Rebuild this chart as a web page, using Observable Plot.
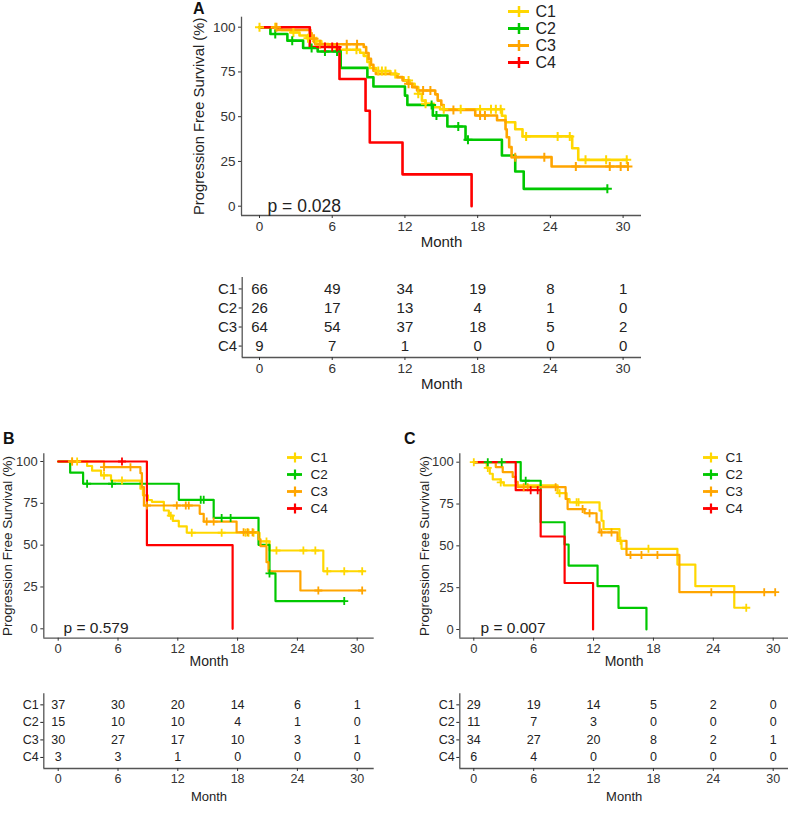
<!DOCTYPE html>
<html><head><meta charset="utf-8">
<script src="https://cdn.jsdelivr.net/npm/d3@7"></script>
<script src="https://cdn.jsdelivr.net/npm/@observablehq/plot@0.6"></script>
<style>
body{margin:0;background:#fff;font-family:"Liberation Sans",Arial,sans-serif;}
#page{position:relative;width:790px;height:819px;overflow:hidden;background:#fff;}
.blk{position:absolute;}
.blk svg{display:block;}
.letter{position:absolute;font-weight:bold;font-size:16px;color:#111;line-height:1;}
</style></head><body><div id="page"></div>
<script>
// ---------- shared ----------
const groups = ["C1","C2","C3","C4"];
const groupColors = ["#FFD700","#00C800","#FFA500","#FF0000"];
const monthTicks = [0,6,12,18,24,30];
const survTicks = [0,25,50,75,100];

// ---------- Panel A ----------
const A_pText = "p = 0.028";
const A_C1_steps = [[0,100],[1.8,98.5],[2.6,97.0],[3.3,95.4],[3.9,93.8],[4.5,92.2],[5.1,90.6],[5.7,89.0],[6.3,87.4],[8.3,85.7],[8.6,84.0],[8.9,80.6],[9.1,77.2],[9.6,75.5],[10.8,73.8],[11.4,72.0],[11.9,70.2],[12.4,68.4],[12.8,66.5],[13.1,62.8],[13.4,59.0],[13.7,57.2],[14.4,55.3],[14.9,54.2],[20.0,50.5],[20.3,46.9],[21.1,43.0],[21.7,39.0],[25.8,32.4],[26.3,25.9]];
const A_C1_end = 30.3;
const A_C1_censor = [0,1.3,2.8,4.0,4.7,7.2,8.0,9.8,10.1,10.4,11.2,12.3,13.1,13.7,15.2,16.6,18.2,19.1,19.5,19.9,22.0,24.6,25.6,26.9,28.6,30.3];
const A_C2_steps = [[0,100],[0.9,96.2],[2.3,92.5],[3.6,88.4],[4.8,86.4],[6.7,77.3],[8.9,72.0],[9.4,66.9],[12.0,61.8],[12.2,56.6],[14.3,50.7],[15.5,44.5],[17.0,37.1],[20.0,28.3],[21.1,19.4],[21.8,9.7]];
const A_C2_end = 28.7;
const A_C2_censor = [1.3,2.7,4.3,5.4,6.4,14.2,14.6,16.4,17.2,28.7];
const A_C3_steps = [[0,100],[1.5,98.4],[4.2,96.8],[4.3,93.6],[4.6,90.5],[8.6,88.9],[8.8,85.6],[9.0,82.3],[9.2,79.0],[9.4,75.7],[9.6,73.9],[11.3,72.1],[11.8,70.3],[12.2,68.4],[12.6,66.5],[13.0,64.6],[14.5,62.5],[14.7,59.0],[15.0,56.5],[15.2,53.8],[17.8,50.7],[19.6,48.0],[20.3,43.0],[20.4,38.5],[20.6,33.0],[20.8,27.4],[24.1,22.2]];
const A_C3_end = 30.4;
const A_C3_censor = [1.4,4.5,5.0,7.2,8.05,12.3,13.5,14.1,16.0,18.2,18.6,21.1,23.5,26.1,28.9,29.8,30.4];
const A_C4_steps = [[0,100],[4.15,88.9],[6.6,71.1],[8.75,53.3],[9.1,35.6],[11.8,17.8],[17.5,0]];
const A_C4_end = 17.5;
const A_C4_censor = [5.4,6.0,6.4];
const A_risk_C1 = [66,49,34,19,8,1];
const A_risk_C2 = [26,17,13,4,1,0];
const A_risk_C3 = [64,54,37,18,5,2];
const A_risk_C4 = [9,7,1,0,0,0];

// ---------- Panel B ----------
const B_pText = "p = 0.579";
const B_C1_steps = [[0,100],[2.9,97.3],[3.4,94.5],[4.3,91.7],[5.3,88.6],[8.25,83.7],[8.5,79.8],[9.0,77.0],[9.4,75.9],[10.6,70.7],[11.1,67.6],[11.5,64.5],[12.1,61.2],[12.9,57.4],[20.2,52.2],[21.2,46.8],[26.6,34.4]];
const B_C1_end = 30.6;
const B_C1_censor = [1.4,1.9,4.6,6.4,11.3,13.4,16.4,18.8,19.1,19.6,20.9,21.9,24.6,25.8,27.0,28.7,30.5];
const B_C2_steps = [[0,100],[1.2,93.3],[2.5,86.7],[12.1,77.1],[15.6,66.3],[20.1,50.2],[21.2,33.1],[21.8,16.6]];
const B_C2_end = 28.7;
const B_C2_censor = [2.9,5.4,14.3,14.6,16.4,17.3,21.2,28.7];
const B_C3_steps = [[0,100],[4.6,96.6],[8.25,93.0],[8.4,84.7],[8.6,73.7],[14.2,68.7],[14.6,64.1],[17.9,57.7],[20.1,53.5],[20.3,49.4],[20.9,39.8],[21.1,34.4],[24.3,22.9]];
const B_C3_end = 30.5;
const B_C3_censor = [1.4,4.6,7.25,8.9,11.9,12.8,13.1,14.9,15.6,18.6,19.0,19.5,26.1,30.5];
const B_C4_steps = [[0,100],[8.9,50],[17.5,0]];
const B_C4_end = 17.5;
const B_C4_censor = [6.4];
const B_risk_C1 = [37,30,20,14,6,1];
const B_risk_C2 = [15,10,10,4,1,0];
const B_risk_C3 = [30,27,17,10,3,1];
const B_risk_C4 = [3,3,1,0,0,0];

// ---------- Panel C ----------
const C_pText = "p = 0.007";
const C_C1_steps = [[0,100],[1.3,96.6],[1.6,93.1],[1.9,89.7],[2.7,87.9],[3.0,86.2],[8.4,81.5],[9.3,78.0],[9.6,76.0],[12.6,71.0],[12.8,65.0],[13.0,60.0],[14.6,53.0],[14.8,48.2],[20.4,38.8],[22.2,25.9],[26.1,13.0]];
const C_C1_end = 27.3;
const C_C1_censor = [0,1.4,2.7,8.6,10.3,10.5,14.7,17.5,27.3];
const C_C2_steps = [[0,100],[4.7,88.9],[6.7,64.1],[9.1,50.8],[9.5,38.2],[12.4,25.9],[14.5,12.9],[17.3,0]];
const C_C2_end = 17.3;
const C_C2_censor = [1.4,2.8,5.2];
const C_C3_steps = [[0,100],[2.2,97.1],[2.9,94.1],[3.9,91.2],[4.2,88.2],[4.4,85.1],[9.2,78.0],[9.4,72.0],[11.1,69.5],[12.3,64.0],[12.6,58.0],[14.4,53.0],[15.3,44.6],[20.6,22.3]];
const C_C3_end = 30.2;
const C_C3_censor = [5.0,5.4,8.2,10.9,11.6,12.8,13.8,15.7,16.8,18.4,23.8,29.1,30.2];
const C_C4_steps = [[0,100],[4.2,83.3],[6.7,55.6],[9.1,27.8],[11.95,0]];
const C_C4_end = 11.95;
const C_C4_censor = [5.7,6.4];
const C_risk_C1 = [29,19,14,5,2,0];
const C_risk_C2 = [11,7,3,0,0,0];
const C_risk_C3 = [34,27,20,8,2,1];
const C_risk_C4 = [6,4,0,0,0,0];

// ---------- helpers ----------
const FONT = '"Liberation Sans", Arial, sans-serif';
const page = document.getElementById("page");
const plusSymbol = {draw(ctx, size){const r = Math.sqrt(size/Math.PI); ctx.moveTo(-r,0); ctx.lineTo(r,0); ctx.moveTo(0,-r); ctx.lineTo(0,r);}};

function place(node, left, top){
  const d = document.createElement("div");
  d.className = "blk"; d.style.left = left + "px"; d.style.top = top + "px";
  d.appendChild(node); page.appendChild(d);
}
function letter(txt, left, top){
  const d = document.createElement("div");
  d.className = "letter"; d.textContent = txt;
  d.style.left = left + "px"; d.style.top = top + "px";
  page.appendChild(d);
}
function survAt(steps, t){let s = steps[0][1]; for (const [tt, ss] of steps) if (tt <= t) s = ss; return s;}

function mainPanel(c){
  const kx = (c.x30 - c.x0)/30, ky = (c.y0 - c.y100)/100;
  const xDom = [(c.axisL - c.x0)/kx, (c.axisR - c.x0)/kx];
  const yDom = [(c.y0 - c.axisB)/ky, (c.y0 - c.axisT)/ky];
  const lines = [], cens = [];
  c.series.forEach(sr => {
    sr.steps.forEach(([t,s]) => lines.push({g: sr.g, t, s}));
    const last = sr.steps[sr.steps.length-1];
    if (sr.end > last[0]) lines.push({g: sr.g, t: sr.end, s: last[1]});
    sr.censor.forEach(t => cens.push({g: sr.g, t, s: survAt(sr.steps, t)}));
  });
  const p = Plot.plot({
    width: c.width, height: c.height,
    marginLeft: c.axisL - c.left, marginRight: c.left + c.width - c.axisR,
    marginTop: c.axisT - c.top, marginBottom: c.top + c.height - c.axisB,
    x: {domain: xDom}, y: {domain: yDom},
    color: {domain: groups, range: groupColors},
    style: {fontFamily: FONT, background: "transparent", color: "#333"},
    marks: [
      Plot.ruleX([xDom[0]], {stroke: "#555", strokeWidth: 1.3}),
      Plot.ruleY([yDom[0]], {stroke: "#555", strokeWidth: 1.3}),
      Plot.axisX(monthTicks, {tickSize: 3, tickPadding: 3, fontSize: c.tickFont, label: null, color: "#333"}),
      Plot.axisY(survTicks, {tickSize: 3, tickPadding: 3, fontSize: c.tickFont, label: null, color: "#333"}),
      Plot.text(["Progression Free Survival (%)"], {frameAnchor: "left", text: d => d, rotate: -90, dx: c.ylabX - c.axisL, fontSize: c.ylabFont, fill: "#222", textAnchor: "middle", lineAnchor: "middle"}),
      Plot.text(["Month"], {frameAnchor: "bottom", text: d => d, dy: c.monthY - c.axisB, fontSize: c.monthFont, fill: "#222", lineAnchor: "middle"}),
      Plot.line(lines, {x: "t", y: "s", z: "g", stroke: "g", curve: "step-after", strokeWidth: c.lw}),
      Plot.dot(cens, {x: "t", y: "s", stroke: "g", fill: "none", symbol: plusSymbol, r: c.plusR, strokeWidth: c.plusW}),
      Plot.text([c.pText], {frameAnchor: "bottom-left", text: d => d, dx: c.pX - c.axisL, dy: c.pY - c.axisB, textAnchor: "start", lineAnchor: "middle", fontSize: c.pFont, fill: "#222"})
    ]
  });
  place(p, c.left, c.top);
}

function legend(c){
  const p = Plot.plot({
    width: c.width, height: c.height,
    marginLeft: 0, marginRight: 0, marginTop: c.y1 - c.top, marginBottom: c.top + c.height - c.y4,
    x: {domain: [0, c.width], axis: null}, y: {type: "point", domain: groups, padding: 0, axis: null},
    color: {domain: groups, range: groupColors},
    style: {fontFamily: FONT, background: "transparent"},
    marks: [
      Plot.ruleY(groups, {y: d => d, x1: c.lx1, x2: c.lx2, stroke: d => d, strokeWidth: c.lw}),
      Plot.dot(groups, {x: (c.lx1 + c.lx2)/2, y: d => d, stroke: d => d, fill: "none", symbol: plusSymbol, r: c.plusR, strokeWidth: c.plusW}),
      Plot.text(groups, {x: c.tx, y: d => d, text: d => d, textAnchor: "start", fontSize: c.font, fill: "#222"})
    ]
  });
  place(p, c.left, c.top);
}

function riskTable(c){
  const kx = (c.x30 - c.x0)/30;
  const xDom = [(c.axisL - c.x0)/kx, (c.axisR - c.x0)/kx];
  const yDom = [-c.pad, 3 + c.pad];
  const cells = [];
  c.rows.forEach((arr, gi) => arr.forEach((n, mi) => cells.push({gi, m: monthTicks[mi], n})));
  const p = Plot.plot({
    width: c.width, height: c.height,
    marginLeft: c.axisL - c.left, marginRight: c.left + c.width - c.axisR,
    marginTop: c.axisT - c.top, marginBottom: c.top + c.height - c.axisB,
    x: {domain: xDom}, y: {domain: yDom, reverse: true},
    style: {fontFamily: FONT, background: "transparent", color: "#333"},
    marks: [
      Plot.ruleX([xDom[0]], {stroke: "#555", strokeWidth: 1.3}),
      Plot.ruleY([yDom[1]], {stroke: "#555", strokeWidth: 1.3}),
      Plot.axisX(monthTicks, {tickSize: 3, tickPadding: 3, fontSize: c.tickFont, label: null, color: "#333"}),
      Plot.axisY([0,1,2,3], {tickSize: 3, tickPadding: 2, fontSize: c.font, label: null, tickFormat: i => groups[i], color: "#222"}),
      Plot.text(cells, {x: "m", y: "gi", text: "n", fontSize: c.font, fill: "#222"}),
      Plot.text(["Month"], {frameAnchor: "bottom", text: d => d, dy: c.monthY - c.axisB, fontSize: c.monthFont, fill: "#222", lineAnchor: "middle"})
    ]
  });
  place(p, c.left, c.top);
}

// ---------- Panel A ----------
letter("A", 193, 1);
mainPanel({left: 180, top: 0, width: 470, height: 260, axisL: 241, axisR: 641, axisT: 16.7, axisB: 215,
  x0: 259, x30: 622.6, y0: 205.7, y100: 26.7, tickFont: 13.5, ylabFont: 14.8, ylabX: 199, monthFont: 15, monthY: 242,
  lw: 2.6, plusR: 4.5, plusW: 2, pText: A_pText, pX: 267, pY: 206, pFont: 17.5,
  series: [
    {g: "C1", steps: A_C1_steps, end: A_C1_end, censor: A_C1_censor},
    {g: "C2", steps: A_C2_steps, end: A_C2_end, censor: A_C2_censor},
    {g: "C3", steps: A_C3_steps, end: A_C3_end, censor: A_C3_censor},
    {g: "C4", steps: A_C4_steps, end: A_C4_end, censor: A_C4_censor}
  ]});
legend({left: 495, top: 0, width: 90, height: 75, y1: 10, y4: 62.5, lx1: 13, lx2: 34, tx: 40, font: 16, lw: 3, plusR: 5.5, plusW: 2.5});
riskTable({left: 180, top: 262, width: 470, height: 135, axisL: 241.7, axisR: 641, axisT: 277, axisB: 357,
  x0: 259, x30: 622.6, pad: 0.6, font: 15, tickFont: 13.5, monthFont: 15, monthY: 384,
  rows: [A_risk_C1, A_risk_C2, A_risk_C3, A_risk_C4]});

// ---------- Panel B ----------
letter("B", 3, 431);
mainPanel({left: 0, top: 440, width: 390, height: 235, axisL: 43.3, axisR: 373.7, axisT: 453.3, axisB: 637.7,
  x0: 57.7, x30: 356.7, y0: 628.3, y100: 461, tickFont: 13, ylabFont: 13.5, ylabX: 7.5, monthFont: 14, monthY: 661,
  lw: 2.2, plusR: 4, plusW: 1.8, pText: B_pText, pX: 63, pY: 628, pFont: 15.5,
  series: [
    {g: "C1", steps: B_C1_steps, end: B_C1_end, censor: B_C1_censor},
    {g: "C2", steps: B_C2_steps, end: B_C2_end, censor: B_C2_censor},
    {g: "C3", steps: B_C3_steps, end: B_C3_end, censor: B_C3_censor},
    {g: "C4", steps: B_C4_steps, end: B_C4_end, censor: B_C4_censor}
  ]});
legend({left: 280, top: 445, width: 60, height: 75, y1: 456, y4: 508, lx1: 7, lx2: 22, tx: 30, font: 13.5, lw: 2.8, plusR: 5, plusW: 2.2});
riskTable({left: 0, top: 680, width: 390, height: 130, axisL: 43.3, axisR: 373.7, axisT: 693.3, axisB: 768,
  x0: 57.7, x30: 356.7, pad: 0.63, font: 12.5, tickFont: 12.5, monthFont: 13, monthY: 796,
  rows: [B_risk_C1, B_risk_C2, B_risk_C3, B_risk_C4]});

// ---------- Panel C ----------
letter("C", 404, 431);
mainPanel({left: 400, top: 440, width: 390, height: 235, axisL: 459.3, axisR: 788, axisT: 453.3, axisB: 637.7,
  x0: 473.3, x30: 772.7, y0: 629, y100: 461.7, tickFont: 13, ylabFont: 13.5, ylabX: 424, monthFont: 14, monthY: 661,
  lw: 2.2, plusR: 4, plusW: 1.8, pText: C_pText, pX: 480, pY: 628, pFont: 15.5,
  series: [
    {g: "C1", steps: C_C1_steps, end: C_C1_end, censor: C_C1_censor},
    {g: "C2", steps: C_C2_steps, end: C_C2_end, censor: C_C2_censor},
    {g: "C3", steps: C_C3_steps, end: C_C3_end, censor: C_C3_censor},
    {g: "C4", steps: C_C4_steps, end: C_C4_end, censor: C_C4_censor}
  ]});
legend({left: 696, top: 445, width: 60, height: 75, y1: 456, y4: 508, lx1: 7, lx2: 22, tx: 29, font: 13.5, lw: 2.8, plusR: 5, plusW: 2.2});
riskTable({left: 400, top: 680, width: 390, height: 130, axisL: 459.3, axisR: 788, axisT: 693.3, axisB: 768,
  x0: 473.3, x30: 772.7, pad: 0.63, font: 12.5, tickFont: 12.5, monthFont: 13, monthY: 796,
  rows: [C_risk_C1, C_risk_C2, C_risk_C3, C_risk_C4]});
</script></body></html>
